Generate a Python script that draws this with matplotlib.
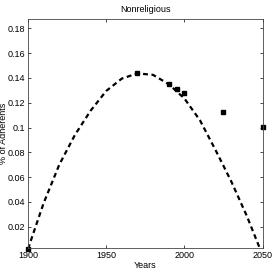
import matplotlib
matplotlib.use('Agg')
import matplotlib.pyplot as plt

# observed data points
years = [1900, 1970, 1990, 1995, 2000, 2025, 2050]
share = [0.002, 0.1442, 0.135, 0.1308, 0.1276, 0.1123, 0.1004]

# fitted curve
fit_years = [1900, 1910, 1920, 1930, 1940, 1950, 1960, 1970, 1980, 1990, 2000, 2010, 2020, 2030, 2040, 2050]
fit_share = [0.002, 0.039, 0.070, 0.094, 0.1135, 0.1295, 0.1395, 0.1437, 0.1425, 0.135, 0.1235, 0.1058, 0.0817, 0.0565, 0.0285, -0.003]

xticks = [1900, 1950, 2000, 2050]
yticks = [0.02, 0.04, 0.06, 0.08, 0.1, 0.12, 0.14, 0.16, 0.18]

plt.rcParams['font.family'] = ['Liberation Sans Narrow', 'Liberation Sans', 'DejaVu Sans']

fig = plt.figure(figsize=(2.73, 2.73), dpi=100)
ax = fig.add_axes([0.1026, 0.0905, 0.859, 0.8385])

ax.plot(fit_years, fit_share, color='black', lw=1.6, linestyle=(0, (2.2, 1.6)))
ax.plot(years, share, 's', color='black', markersize=3, clip_on=False)

ax.set_xlim(1900, 2050)
ax.set_ylim(0.0025, 0.1873)
ax.set_xticks(xticks)
ax.set_xticklabels([str(t) for t in xticks])
ax.set_yticks(yticks)
ax.set_yticklabels(['%g' % t for t in yticks])
ax.tick_params(direction='in', length=2, width=0.5, labelsize=6.5, top=True, right=True, pad=2)
for s in ax.spines.values():
    s.set_linewidth(0.6)
    s.set_color('#444444')

ax.set_title('Nonreligious', fontsize=6.5, pad=5)
ax.set_xlabel('Years', fontsize=6.5, labelpad=1)
ax.set_ylabel('% of Adherents', fontsize=6.5)
ax.yaxis.set_label_coords(-0.085, 0.5)

fig.savefig('out.png', dpi=100)
